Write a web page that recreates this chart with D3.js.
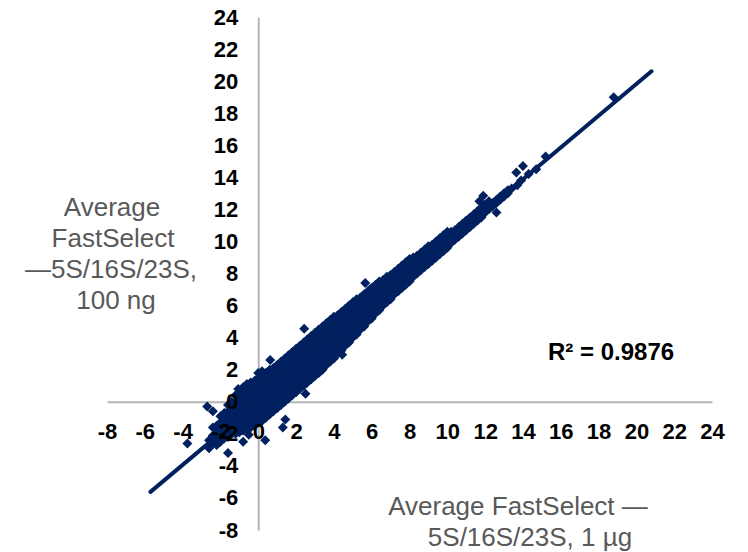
<!DOCTYPE html>
<html>
<head>
  <script src="https://d3js.org/d3.v7.min.js"></script>
  <title>FastSelect scatter</title>
  <style>
    body { margin: 0; background: #fff; }
    .tick text { font-family: "Liberation Sans", Arial, sans-serif; font-weight: bold; font-size: 22px; fill: #000; }
    .axis-title { font-family: "Liberation Sans", Arial, sans-serif; font-size: 26px; fill: #595959; }
    .r2 { font-family: "Liberation Sans", Arial, sans-serif; font-weight: bold; font-size: 24px; fill: #000; }
  </style>
</head>
<body>
<div id="chart-container"></div>
<script>
// tick labels on both axes
var xTickValues = [-8, -6, -4, -2, 0, 2, 4, 6, 8, 10, 12, 14, 16, 18, 20, 22, 24];
var yTickValues = [-8, -6, -4, -2, 0, 2, 4, 6, 8, 10, 12, 14, 16, 18, 20, 22, 24];

// dense part of the cloud, read column by column: [x, [y values]]
var cloudColumns = [
  [-2.6, [-2.9, -2.4]],
  [-2.4, [-2.6, -2.1, -1.6]],
  [-2.2, [-2.7, -2.3, -1.9, -1.5]],
  [-2.0, [-2.5, -2.1, -1.7, -1.3, -0.9]],
  [-1.8, [-2.3, -1.9, -1.5, -1.1, -0.7]],
  [-1.6, [-2.2, -1.8, -1.4, -1.0, -0.6, -0.2]],
  [-1.4, [-2.0, -1.6, -1.2, -0.8, -0.4, 0.0]],
  [-1.2, [-2.0, -1.6, -1.2, -0.8, -0.4, 0.0, 0.4]],
  [-1.0, [-1.9, -1.5, -1.1, -0.7, -0.3, 0.1, 0.5]],
  [-0.8, [-1.8, -1.4, -1.0, -0.6, -0.2, 0.2, 0.6, 0.9]],
  [-0.6, [-1.7, -1.3, -0.9, -0.5, -0.1, 0.3, 0.7, 1.1]],
  [-0.4, [-1.6, -1.2, -0.8, -0.4, 0.0, 0.4, 0.8, 1.2]],
  [-0.2, [-1.5, -1.1, -0.7, -0.3, 0.1, 0.5, 0.9, 1.3]],
  [0.0, [-1.3, -0.9, -0.5, -0.1, 0.3, 0.7, 1.1, 1.5, 1.8]],
  [0.2, [-1.2, -0.8, -0.4, 0.0, 0.4, 0.8, 1.2, 1.6, 1.9]],
  [0.4, [-1.0, -0.6, -0.2, 0.2, 0.6, 1.0, 1.4, 1.8]],
  [0.6, [-0.8, -0.4, 0.0, 0.4, 0.8, 1.2, 1.6, 2.0]],
  [0.8, [-0.6, -0.2, 0.2, 0.6, 1.0, 1.4, 1.8, 2.1]],
  [1.0, [-0.4, 0.0, 0.4, 0.8, 1.2, 1.6, 2.0, 2.3]],
  [1.2, [-0.2, 0.2, 0.6, 1.0, 1.4, 1.8, 2.2, 2.5]],
  [1.4, [0.0, 0.4, 0.8, 1.2, 1.6, 2.0, 2.4, 2.7]],
  [1.6, [0.2, 0.6, 1.0, 1.4, 1.8, 2.2, 2.6, 2.9]],
  [1.8, [0.4, 0.8, 1.2, 1.6, 2.0, 2.4, 2.8, 3.1]],
  [2.0, [0.6, 1.0, 1.4, 1.8, 2.2, 2.6, 3.0, 3.3]],
  [2.2, [0.8, 1.2, 1.6, 2.0, 2.4, 2.8, 3.2, 3.5]],
  [2.4, [1.0, 1.4, 1.8, 2.2, 2.6, 3.0, 3.4, 3.7]],
  [2.6, [1.2, 1.6, 2.0, 2.4, 2.8, 3.2, 3.6, 3.9]],
  [2.8, [1.4, 1.8, 2.2, 2.6, 3.0, 3.4, 3.8, 4.1]],
  [3.0, [1.6, 2.0, 2.4, 2.8, 3.2, 3.6, 4.0, 4.3]],
  [3.2, [1.8, 2.2, 2.6, 3.0, 3.4, 3.8, 4.2, 4.5]],
  [3.4, [2.0, 2.4, 2.8, 3.2, 3.6, 4.0, 4.4, 4.7]],
  [3.6, [2.3, 2.7, 3.1, 3.5, 3.9, 4.3, 4.7, 4.9]],
  [3.8, [2.5, 2.9, 3.3, 3.7, 4.1, 4.5, 4.9, 5.1]],
  [4.0, [2.7, 3.1, 3.5, 3.9, 4.3, 4.7, 5.1, 5.3]],
  [4.2, [3.0, 3.4, 3.8, 4.2, 4.6, 5.0, 5.4]],
  [4.4, [3.2, 3.6, 4.0, 4.4, 4.8, 5.2, 5.6]],
  [4.6, [3.5, 3.9, 4.3, 4.7, 5.1, 5.5, 5.8]],
  [4.8, [3.7, 4.1, 4.5, 4.9, 5.3, 5.7, 6.0]],
  [5.0, [4.0, 4.4, 4.8, 5.2, 5.6, 6.0, 6.2]],
  [5.2, [4.2, 4.6, 5.0, 5.4, 5.8, 6.2, 6.4]],
  [5.4, [4.5, 4.9, 5.3, 5.7, 6.1, 6.5]],
  [5.6, [4.7, 5.1, 5.5, 5.9, 6.3, 6.7]],
  [5.8, [5.0, 5.4, 5.8, 6.2, 6.6, 6.9]],
  [6.0, [5.2, 5.6, 6.0, 6.4, 6.8, 7.1]],
  [6.2, [5.5, 5.9, 6.3, 6.7, 7.1, 7.3]],
  [6.4, [5.7, 6.1, 6.5, 6.9, 7.3, 7.5]],
  [6.6, [6.0, 6.4, 6.8, 7.2, 7.6]],
  [6.8, [6.2, 6.6, 7.0, 7.4, 7.8]],
  [7.0, [6.4, 6.8, 7.2, 7.6, 7.9]],
  [7.2, [6.7, 7.1, 7.5, 7.9, 8.1]],
  [7.4, [6.9, 7.3, 7.7, 8.1, 8.3]],
  [7.6, [7.1, 7.5, 7.9, 8.3, 8.5]],
  [7.8, [7.3, 7.7, 8.1, 8.5, 8.7]],
  [8.0, [7.5, 7.9, 8.3, 8.7, 8.9]],
  [8.2, [7.8, 8.2, 8.6, 9.0]],
  [8.4, [8.0, 8.4, 8.8, 9.1]],
  [8.6, [8.2, 8.6, 9.0, 9.3]],
  [8.8, [8.4, 8.8, 9.2, 9.5]],
  [9.0, [8.6, 9.0, 9.4, 9.7]],
  [9.2, [8.8, 9.2, 9.6, 9.8]],
  [9.4, [9.0, 9.4, 9.8, 10.0]],
  [9.6, [9.2, 9.6, 10.0, 10.2]],
  [9.8, [9.4, 9.8, 10.2, 10.4]],
  [10.0, [9.6, 10.0, 10.4, 10.6]],
  [10.2, [9.9, 10.2, 10.6]],
  [10.4, [10.1, 10.4, 10.7]],
  [10.6, [10.3, 10.6, 10.9]],
  [10.8, [10.5, 10.8, 11.1]],
  [11.0, [10.7, 11.0, 11.3]],
  [11.2, [10.9, 11.2, 11.5]],
  [11.4, [11.1, 11.4, 11.7]],
  [11.6, [11.3, 11.6, 11.9]],
  [11.8, [11.5, 11.8, 12.1]],
  [12.0, [11.8, 12.0, 12.3]],
  [12.2, [12.0, 12.2, 12.5]],
  [12.4, [12.2, 12.4]],
  [12.6, [12.4, 12.6]],
  [12.8, [12.6, 12.8]],
  [13.0, [12.8, 13.0]],
  [13.2, [13.0, 13.2]],
  [13.4, [13.3]],
  [13.7, [13.5]],
  [13.9, [13.8]],
  [14.3, [14.2]],
  [14.7, [14.5]],
  [15.2, [15.3]]
];

// scattered points away from the main band
var outlierX = [2.43, 4.44, 5.66, 5.9, 11.9, 11.7, 12.6, 0.63, -1.06, -2.7, -2.4, 1.43, 2.5, -0.5, -1.6, -2.1, -3.75, -0.8, 0.37, 1.3, 13.65, 14.0, 18.8];
var outlierY = [4.55, 2.93, 7.4, 7.0, 12.85, 12.5, 11.8, 2.6, 0.8, -0.3, -0.6, -1.1, 0.5, -2.06, -3.2, -2.55, -2.6, -2.5, -2.4, -1.6, 14.3, 14.7, 19.0];

// linear trendline as drawn: y = slope * x + intercept, between the two x ends
var trendSlope = 0.99;
var trendIntercept = 0.02;
var trendXs = [-5.7, 20.8];
var r2Label = "R\u00b2 = 0.9876";

var width = 748;
var height = 552;
var navy = "#002060";

var svg = d3.select("#chart-container")
  .append("svg")
  .attr("width", width)
  .attr("height", height);

var xScale = d3.scaleLinear().domain([-8, 24]).range([107, 712]);
var yScale = d3.scaleLinear().domain([-8, 24]).range([530, 17]);

var points = [];
cloudColumns.forEach(function(c) {
  c[1].forEach(function(y) { points.push({ x: c[0], y: y }); });
});
outlierX.forEach(function(x, i) { points.push({ x: x, y: outlierY[i] }); });

// axis lines (under the points)
var axisLines = svg.append("g");
axisLines.append("g")
  .attr("transform", "translate(0," + yScale(0) + ")")
  .call(d3.axisBottom(xScale).tickValues([]).tickSizeOuter(0));
axisLines.append("g")
  .attr("transform", "translate(" + xScale(0) + ",0)")
  .call(d3.axisLeft(yScale).tickValues([]).tickSizeOuter(0));
axisLines.selectAll(".domain")
  .attr("stroke", "#b4b4b4")
  .attr("stroke-width", 2);

var diamond = d3.symbol().type(d3.symbolSquare).size(50);

svg.append("g")
  .selectAll("path")
  .data(points)
  .enter().append("path")
  .attr("d", diamond)
  .attr("fill", navy)
  .attr("transform", function(d) {
    return "translate(" + xScale(d.x) + "," + yScale(d.y) + ") rotate(45)";
  });

var trendLine = d3.line()
  .x(function(x) { return xScale(x); })
  .y(function(x) { return yScale(trendSlope * x + trendIntercept); });

svg.append("path")
  .datum(trendXs)
  .attr("d", trendLine)
  .attr("fill", "none")
  .attr("stroke", navy)
  .attr("stroke-width", 4)
  .attr("stroke-linecap", "round");

// tick labels (drawn over the points)
var xAxis = svg.append("g")
  .attr("transform", "translate(0," + yScale(0) + ")")
  .call(d3.axisBottom(xScale).tickValues(xTickValues).tickSize(0).tickPadding(22).tickFormat(d3.format("d")));
var yAxis = svg.append("g")
  .attr("transform", "translate(" + xScale(0) + ",0)")
  .call(d3.axisLeft(yScale).tickValues(yTickValues).tickSize(0).tickPadding(20).tickFormat(d3.format("d")));
xAxis.select(".domain").remove();
yAxis.select(".domain").remove();
svg.selectAll(".tick text").text(function(d) { return String(d).replace("\u2212", "-"); });

// axis titles
var yTitle = [["Average", 112, 216], ["FastSelect", 113, 247], ["\u20145S/16S/23S,", 111, 278], ["100 ng", 116, 309]];
svg.selectAll(".y-title")
  .data(yTitle)
  .enter().append("text")
  .attr("class", "axis-title")
  .attr("text-anchor", "middle")
  .attr("x", function(d) { return d[1]; })
  .attr("y", function(d) { return d[2]; })
  .text(function(d) { return d[0]; });

var xTitle = [["Average FastSelect \u2014", 518, 515], ["5S/16S/23S, 1 \u00b5g", 530, 546]];
svg.selectAll(".x-title")
  .data(xTitle)
  .enter().append("text")
  .attr("class", "axis-title")
  .attr("text-anchor", "middle")
  .attr("x", function(d) { return d[1]; })
  .attr("y", function(d) { return d[2]; })
  .text(function(d) { return d[0]; });

svg.append("text")
  .attr("class", "r2")
  .attr("x", 548)
  .attr("y", 360)
  .text(r2Label);
</script>
</body>
</html>
